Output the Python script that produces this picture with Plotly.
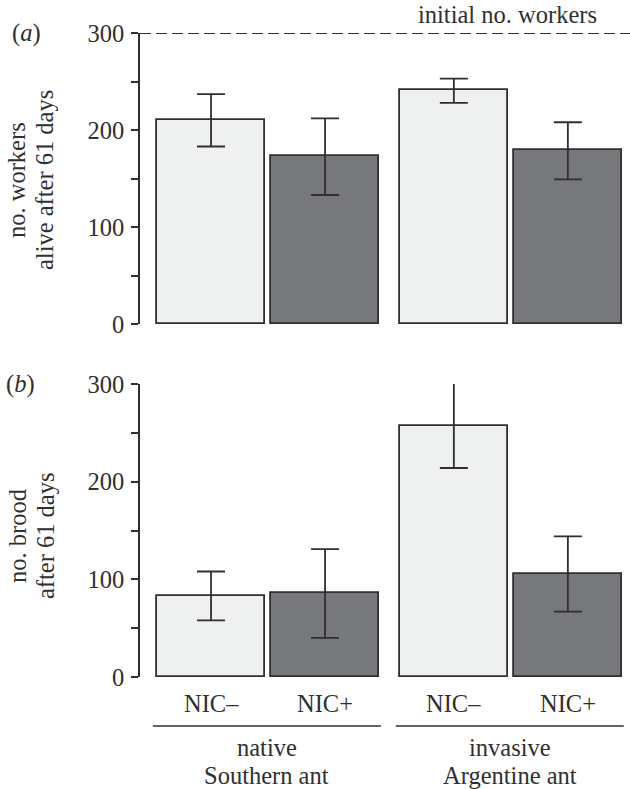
import plotly.graph_objects as go

# ---- data ----
categories = ["NIC–", "NIC+", "NIC–", "NIC+"]
group_line1 = ["native", "invasive"]
group_line2 = ["Southern ant", "Argentine ant"]
group_index = [0, 0, 1, 1]
within_index = [0, 1, 0, 1]

workers_mean = [210, 173, 241, 179]
workers_upper = [237, 212, 253, 208]
workers_lower = [183, 133, 228, 149]

brood_mean = [83, 86, 257, 105]
brood_upper = [108, 131, 301, 144]
brood_lower = [58, 40, 214, 67]

initial_workers = 300
y_ticks = [0, 50, 100, 150, 200, 250, 300]
y_ticklabels = ["0", "", "100", "", "200", "", "300"]
title_a = ["no. workers", "alive after 61 days"]
title_b = ["no. brood", "after 61 days"]

# ---- styling ----
FONT = "Liberation Serif"
FS = 24.5
INK = "#2f2f2f"
LIGHT = "#eff0f0"
DARK = "#77787c"
GROUP_GAP = 2.13
xpos = [g * GROUP_GAP + w for g, w in zip(group_index, within_index)]
colors = [LIGHT if w == 0 else DARK for w in within_index]
TXT = dict(family=FONT, size=FS, color=INK)

fig = go.Figure()

def add_bars(mean, upper, lower, xa, ya):
    fig.add_trace(go.Bar(
        x=xpos, y=mean, width=0.947,
        marker=dict(color=colors, line=dict(color=INK, width=1.8)),
        error_y=dict(type="data", symmetric=False,
                     array=[u - m for u, m in zip(upper, mean)],
                     arrayminus=[m - l for m, l in zip(mean, lower)],
                     color=INK, thickness=1.8, width=14),
        xaxis=xa, yaxis=ya, showlegend=False, hoverinfo="skip"))

add_bars(workers_mean, workers_upper, workers_lower, "x", "y")
add_bars(brood_mean, brood_upper, brood_lower, "x2", "y2")

W, H, L = 630, 789, 140
def py(px):
    return (H - px) / H
def px_(x):
    return (x - L) / (W - L)

xr = [-0.623, 3.675]
yaxis_common = dict(range=[0, 300], tickvals=y_ticks, ticktext=y_ticklabels,
                    ticks="outside", ticklen=7, tickwidth=1.8, tickcolor=INK,
                    showline=True, linecolor=INK, linewidth=1.8,
                    showgrid=False, zeroline=False, automargin=False,
                    tickfont=TXT, ticklabelstandoff=2, fixedrange=True)
xaxis_common = dict(range=xr, showticklabels=False, showgrid=False,
                    zeroline=False, showline=False, ticks="", fixedrange=True,
                    automargin=False)

fig.update_layout(
    template="none",
    width=W, height=H, autosize=False,
    margin=dict(l=L, r=0, t=0, b=0, pad=0),
    paper_bgcolor="white", plot_bgcolor="white",
    font=TXT,
    xaxis=dict(domain=[0, 1], anchor="y", **xaxis_common),
    yaxis=dict(domain=[py(324), py(33)], anchor="x", **yaxis_common),
    xaxis2=dict(domain=[0, 1], anchor="y2", **xaxis_common),
    yaxis2=dict(domain=[py(677), py(384)], anchor="x2", **yaxis_common),
    bargap=0,
)

def note(x, xref, y, text, **kw):
    fig.add_annotation(x=x, xref=xref, y=y, yref="paper", text=text,
                       showarrow=False, xanchor="center", yanchor="middle",
                       font=TXT, **kw)

# dashed initial workers line
fig.add_shape(type="line", xref="x domain", yref="y", x0=0, x1=1,
              y0=initial_workers, y1=initial_workers,
              line=dict(color=INK, width=2, dash="11px,5px"))
inv_center = (xpos[2] + xpos[3]) / 2
note(inv_center - 0.03, "x", py(14), "initial no. workers")

# category labels
for xp, cat in zip(xpos, categories):
    note(xp, "x2", py(703), cat)

# group lines & labels
for gi in range(len(group_line1)):
    xs = [xp for xp, g in zip(xpos, group_index) if g == gi]
    x0, x1 = min(xs) - 0.51, max(xs) + 0.49
    fig.add_shape(type="line", xref="x2", yref="paper", x0=x0, x1=x1,
                  y0=py(726), y1=py(726), line=dict(color=INK, width=1.5))
    note((x0 + x1) / 2, "x2", py(747), group_line1[gi])
    note((x0 + x1) / 2, "x2", py(775), group_line2[gi])

# y titles (one annotation per line)
for i, (ta, tb) in enumerate(zip(title_a, title_b)):
    xc = px_(17 + 28 * i)
    note(xc, "paper", py(180), ta, textangle=-90)
    note(xc, "paper", py(536), tb, textangle=-90)

# panel labels
note(px_(26), "paper", py(33), "(<i>a</i>)")
note(px_(20), "paper", py(384), "(<i>b</i>)")

fig.write_html("out.html", config={"responsive": False, "displayModeBar": False},
               post_script="document.body.style.margin='0';document.body.style.overflow='hidden';")
